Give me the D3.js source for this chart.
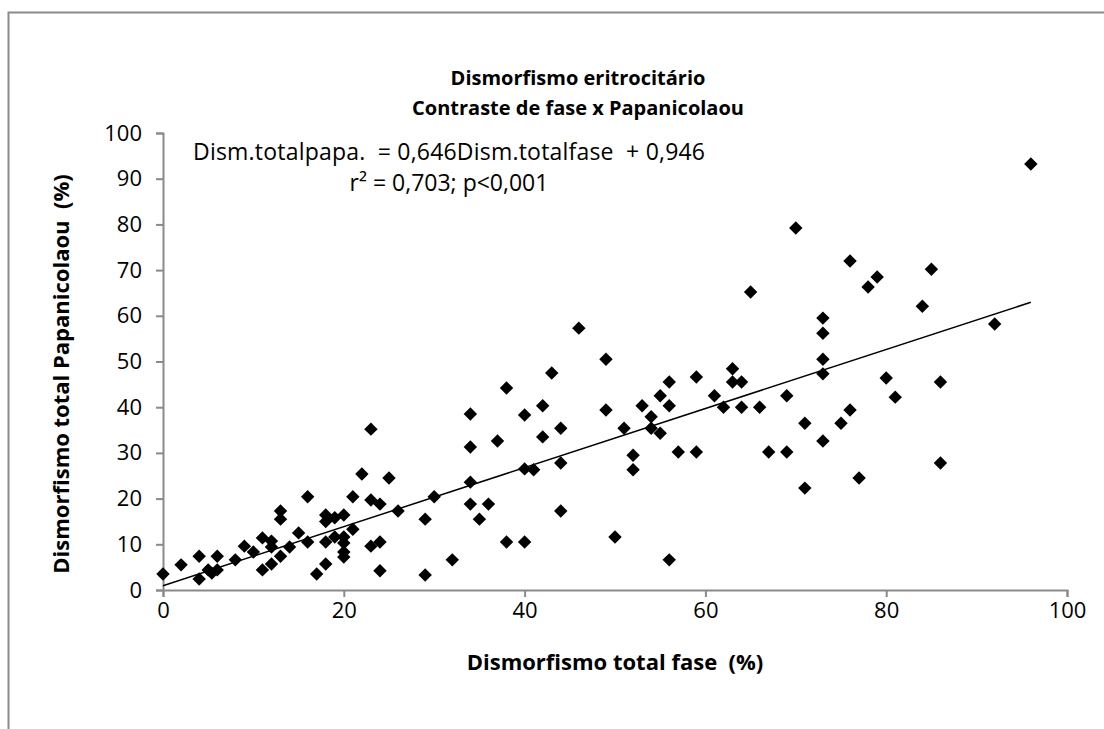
<!DOCTYPE html>
<html>
<head>
<meta charset="utf-8">
<script src="https://cdn.jsdelivr.net/npm/d3@7"></script>
<style>
  body { margin: 0; background: #fff; }
  svg text { font-family: "Open Sans", "Liberation Sans", sans-serif; fill: #000; white-space: pre; }
</style>
</head>
<body>
<div class="stage"></div>
<script>
// chart size
var width = 1104;
var height = 729;

// data: total dysmorphism, phase contrast (x) vs Papanicolaou (y)
var faseValues = [0, 2, 4, 4, 5, 5.4, 6, 6, 8, 9, 10, 11, 11, 12, 12, 12, 13, 13, 13, 14,
  15, 16, 16, 17, 18, 18, 18, 18, 19, 19, 20, 20, 20, 20, 20, 21, 21, 22, 23, 23,
  23, 24, 24, 24, 25, 26, 29, 29, 30, 32, 34, 34, 34, 34, 35, 36, 37, 38, 38, 40,
  40, 40, 41, 42, 42, 43, 44, 44, 44, 46, 49, 49, 50, 51, 52, 52, 53, 54, 54, 55,
  55, 56, 56, 56, 57, 59, 59, 61, 62, 63, 63, 64, 64, 65, 66, 67, 69, 69, 70, 71,
  71, 73, 73, 73, 73, 73, 75, 76, 76, 77, 78, 79, 80, 81, 84, 85, 86, 86, 92, 96];
var papaValues = [3.5, 5.5, 7.4, 2.4, 4.4, 3.7, 4.4, 7.4, 6.6, 9.6, 8.3, 11.4, 4.4, 10.7, 9.4, 5.7, 7.4, 17.3, 15.5, 9.4,
  12.5, 20.4, 10.5, 3.5, 16.4, 15, 10.5, 5.7, 15.8, 11.6, 16.4, 11.6, 10.3, 8.3, 7.2, 20.4, 13.3, 25.4, 35.2, 19.7,
  9.6, 18.8, 10.5, 4.2, 24.5, 17.3, 15.5, 3.3, 20.4, 6.6, 38.5, 31.3, 23.6, 18.8, 15.5, 18.8, 32.6, 44.2, 10.5, 38.3,
  10.5, 26.5, 26.3, 40.3, 33.5, 47.5, 35.4, 27.8, 17.3, 57.3, 50.5, 39.4, 11.6, 35.4, 29.5, 26.3, 40.3, 37.9, 35.4, 42.5,
  34.3, 45.5, 40.3, 6.6, 30.2, 46.6, 30.2, 42.5, 40, 48.4, 45.5, 45.5, 40, 65.2, 40, 30.2, 30.2, 42.5, 79.2, 36.5,
  22.3, 59.5, 56.2, 50.5, 47.3, 32.6, 36.5, 39.4, 72, 24.5, 66.3, 68.5, 46.4, 42.2, 62.1, 70.2, 45.5, 27.8, 58.2, 93.2];

// regression line from the chart's equation
var slope = 0.646;
var intercept = 0.946;
var lineRange = [0, 96];

var xTicks = [0, 20, 40, 60, 80, 100];
var yTicks = [0, 10, 20, 30, 40, 50, 60, 70, 80, 90, 100];

var titleLines = ["Dismorfismo eritrocitário", "Contraste de fase x Papanicolaou"];
var equationLines = ["Dism.totalpapa.  = 0,646Dism.totalfase  + 0,946", "r² = 0,703; p<0,001"];

var points = faseValues.map(function(v, i) { return [v, papaValues[i]]; });

var svg = d3.select('.stage')
  .append('svg')
  .attr('width', width)
  .attr('height', height);

// outer chart border
svg.append('rect')
  .attr('x', 8.5)
  .attr('y', 12.5)
  .attr('width', width + 20)
  .attr('height', height + 20)
  .attr('fill', 'none')
  .attr('stroke', '#8a8a8a')
  .attr('stroke-width', 2);

var x = d3.scaleLinear().domain([0, 100]).range([163, 1067]);
var y = d3.scaleLinear().domain([0, 100]).range([590, 133]);

// axes
var xAxis = svg.append('g')
  .attr('transform', 'translate(0,590)')
  .call(d3.axisBottom(x).tickValues(xTicks).tickSize(7).tickPadding(5).tickFormat(d3.format('d')));
var yAxis = svg.append('g')
  .attr('transform', 'translate(163,0)')
  .call(d3.axisLeft(y).tickValues(yTicks).tickSize(7).tickPadding(14).tickFormat(d3.format('d')));

[xAxis, yAxis].forEach(function(g) {
  g.select('.domain').attr('stroke', '#8a8a8a').attr('stroke-width', 2);
  g.selectAll('.tick line').attr('stroke', '#8a8a8a').attr('stroke-width', 2);
  g.selectAll('.tick text').attr('font-size', 22).attr('fill', '#000')
    .style('font-family', '"Open Sans", "Liberation Sans", sans-serif');
});

// trend line
svg.append('line')
  .attr('x1', x(lineRange[0]))
  .attr('y1', y(slope * lineRange[0] + intercept))
  .attr('x2', x(lineRange[1]))
  .attr('y2', y(slope * lineRange[1] + intercept))
  .attr('stroke', '#000')
  .attr('stroke-width', 1.5);

// points (diamonds)
svg.selectAll('path.pt')
  .data(points)
  .enter()
  .append('path')
  .attr('class', 'pt')
  .attr('d', d3.symbol().type(d3.symbolSquare).size(90))
  .attr('transform', function(d) {
    return 'translate(' + x(d[0]) + ',' + y(d[1]) + ') rotate(45)';
  })
  .attr('fill', '#000');

// titles
svg.selectAll('text.title')
  .data(titleLines)
  .enter()
  .append('text')
  .attr('class', 'title')
  .attr('x', 578)
  .attr('y', function(d, i) { return 85 + i * 30; })
  .attr('text-anchor', 'middle')
  .attr('font-size', 20)
  .attr('font-weight', 'bold')
  .text(function(d) { return d; });

svg.selectAll('text.eq')
  .data(equationLines)
  .enter()
  .append('text')
  .attr('class', 'eq')
  .attr('x', 449)
  .attr('y', function(d, i) { return 160 + i * 31; })
  .attr('text-anchor', 'middle')
  .attr('font-size', 23)
  .attr('textLength', function(d, i) { return i === 0 ? 512 : null; })
  .text(function(d) { return d; });

// axis titles
svg.append('text')
  .attr('x', 615)
  .attr('y', 670)
  .attr('text-anchor', 'middle')
  .attr('font-size', 22)
  .attr('font-weight', 'bold')
  .text('Dismorfismo total fase  (%)');

svg.append('text')
  .attr('transform', 'translate(69,374) rotate(-90)')
  .attr('text-anchor', 'middle')
  .attr('font-size', 22)
  .attr('font-weight', 'bold')
  .text('Dismorfismo total Papanicolaou  (%)');
</script>
</body>
</html>
